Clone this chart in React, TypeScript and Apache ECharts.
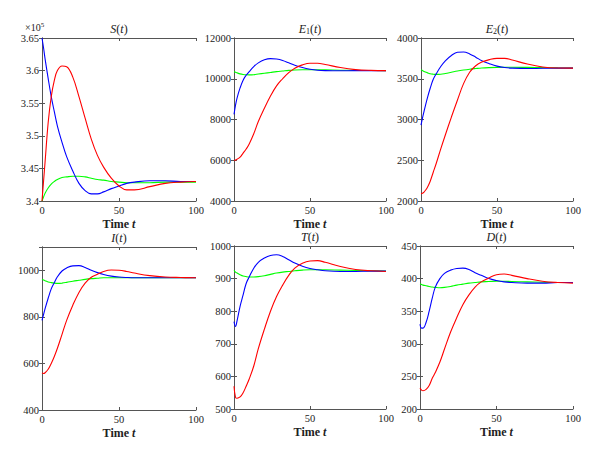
import React, { useEffect, useRef } from "react";
import * as echarts from "echarts";

// Time samples shared by all curves
const T = [0, 1, 2, 4, 6, 8, 10, 13, 16, 20, 24, 28, 32, 36, 40, 45, 50, 55, 60, 70, 80, 90, 100];

// S(t) (×10^5)
const S_blue = [3.65, 3.635, 3.618, 3.588, 3.56, 3.537, 3.515, 3.49, 3.468, 3.446, 3.427, 3.416, 3.411, 3.411, 3.414, 3.419, 3.423, 3.427, 3.429, 3.431, 3.431, 3.43, 3.43];
const S_red = [3.4, 3.43, 3.46, 3.52, 3.56, 3.585, 3.6, 3.607, 3.606, 3.59, 3.56, 3.527, 3.495, 3.47, 3.452, 3.435, 3.423, 3.417, 3.417, 3.422, 3.427, 3.429, 3.43];
const S_green = [3.4, 3.406, 3.412, 3.42, 3.426, 3.43, 3.433, 3.436, 3.437, 3.438, 3.438, 3.437, 3.435, 3.433, 3.432, 3.43, 3.429, 3.428, 3.428, 3.428, 3.429, 3.429, 3.429];

// E1(t)
const E1_blue = [8250, 8700, 9050, 9550, 9930, 10170, 10350, 10600, 10780, 10930, 10990, 10970, 10900, 10780, 10660, 10550, 10470, 10420, 10400, 10390, 10400, 10400, 10400];
const E1_red = [6000, 6010, 6050, 6150, 6350, 6550, 6800, 7300, 7900, 8550, 9150, 9650, 10000, 10300, 10520, 10680, 10760, 10760, 10700, 10550, 10450, 10410, 10400];
const E1_green = [10350, 10320, 10290, 10240, 10210, 10195, 10190, 10200, 10230, 10270, 10310, 10350, 10380, 10410, 10430, 10440, 10440, 10440, 10435, 10420, 10410, 10405, 10400];

// E2(t)
const E2_blue = [2930, 3020, 3100, 3250, 3380, 3490, 3560, 3650, 3720, 3785, 3825, 3828, 3805, 3765, 3722, 3685, 3655, 3638, 3630, 3625, 3628, 3630, 3630];
const E2_red = [2090, 2095, 2110, 2160, 2240, 2350, 2460, 2640, 2810, 3030, 3240, 3440, 3580, 3660, 3705, 3735, 3750, 3750, 3730, 3680, 3645, 3632, 3630];
const E2_green = [3610, 3600, 3590, 3575, 3562, 3556, 3554, 3556, 3565, 3580, 3595, 3607, 3617, 3625, 3632, 3637, 3640, 3641, 3641, 3639, 3636, 3633, 3632];

// I(t)
const I_blue = [785, 810, 835, 880, 920, 947, 972, 997, 1010, 1019, 1020, 1012, 1000, 990, 982, 975, 971, 969, 968, 968, 968, 968, 968];
const I_red = [560, 557, 560, 575, 600, 630, 665, 725, 785, 850, 905, 945, 970, 983, 995, 1001, 1000, 995, 988, 977, 971, 969, 968];
const I_green = [962, 958, 955, 950, 947, 945, 944, 945, 948, 953, 957, 961, 964, 966, 968, 968, 968, 968, 968, 968, 968, 968, 968];

// T(t)
const T_blue = [768, 753, 770, 815, 850, 885, 905, 932, 950, 963, 971, 973, 968, 958, 948, 938, 931, 927, 924, 922, 922, 923, 923];
const T_red = [570, 536, 533, 537, 550, 570, 592, 632, 685, 745, 800, 845, 880, 910, 932, 947, 954, 955, 950, 937, 928, 924, 922];
const T_green = [925, 920, 917, 912, 908, 906, 905, 905, 906, 909, 913, 917, 920, 922, 924, 926, 927, 927, 927, 926, 925, 924, 923];

// D(t)
const D_blue = [330, 324, 324, 333, 350, 370, 387, 400, 408, 413, 415.5, 416, 414, 409, 405, 400, 397, 395, 394, 393, 393, 394, 394];
const D_red = [232, 229, 228, 230, 236, 247, 256, 272, 292, 318, 340, 360, 375, 387, 395, 401, 406, 407, 405, 400, 396, 394, 393];
const D_green = [392, 391, 390, 389, 388, 387, 386.5, 386, 386.5, 388, 390, 391.5, 393, 394, 395, 395.5, 396, 396, 395.5, 395, 394.5, 394, 394];

// Y axis ranges
const Y_MIN = [3.4, 4000, 2000, 400, 500, 200];
const Y_MAX = [3.65, 12000, 4000, 1100, 1000, 450];
const Y_STEP = [0.05, 2000, 500, 200, 100, 50];
const X_TICKS = [0, 50, 100];

const TITLES = [
  "{it|S}({it|t})",
  "{it|E}{sub|1}({it|t})",
  "{it|E}{sub|2}({it|t})",
  "{it|I}({it|t})",
  "{it|T}({it|t})",
  "{it|D}({it|t})",
];

const BLUES = [S_blue, E1_blue, E2_blue, I_blue, T_blue, D_blue];
const REDS = [S_red, E1_red, E2_red, I_red, T_red, D_red];
const GREENS = [S_green, E1_green, E2_green, I_green, T_green, D_green];

const FONT = "'Liberation Serif', 'Times New Roman', 'DejaVu Serif', serif";

const GRIDS = [
  { left: 42, top: 38, width: 154, height: 163 },
  { left: 234, top: 38, width: 152, height: 163 },
  { left: 421, top: 38, width: 152, height: 163 },
  { left: 42, top: 247, width: 154, height: 163 },
  { left: 234, top: 246, width: 152, height: 163 },
  { left: 420, top: 246, width: 153, height: 163 },
];

export default function App() {
  const ref = useRef<HTMLDivElement>(null);
  useEffect(() => {
    if (!ref.current) return;
    const chart = echarts.init(ref.current, null, { renderer: "svg" });
    const axisLine = { show: true, lineStyle: { color: "#555", width: 1 } };
    const tick = { show: true, inside: true, length: 3, lineStyle: { color: "#555" } };
    const label = { color: "#222", fontFamily: FONT, fontSize: 10.5 };
    const fmt = (v: number) => String(Math.round(v * 1000) / 1000);
    const xAxes: any[] = [];
    const yAxes: any[] = [];
    const series: any[] = [];
    const graphics: any[] = [];
    GRIDS.forEach((g, i) => {
      xAxes.push({
        type: "value", gridIndex: i, min: X_TICKS[0], max: X_TICKS[2], interval: 50,
        position: "bottom", axisLine, axisTick: tick, splitLine: { show: false },
        axisLabel: { ...label, margin: 4, formatter: fmt },
        name: "{b|Time} {bi|t}", nameLocation: "middle", nameGap: 17,
        nameTextStyle: {
          fontFamily: FONT, fontSize: 12, color: "#222",
          rich: {
            b: { fontFamily: FONT, fontSize: 12, fontWeight: "bold", color: "#222" },
            bi: { fontFamily: FONT, fontSize: 12, fontWeight: "bold", fontStyle: "italic", color: "#222" },
          },
        },
      });
      yAxes.push({
        type: "value", gridIndex: i, min: Y_MIN[i], max: Y_MAX[i], interval: Y_STEP[i],
        position: "left", axisLine, axisTick: tick, splitLine: { show: false },
        axisLabel: { ...label, margin: 3, formatter: fmt, showMaxLabel: i === 3 ? false : true },
      });
    });
    GRIDS.forEach((g, i) => {
      xAxes.push({
        type: "value", gridIndex: i, min: X_TICKS[0], max: X_TICKS[2], interval: 50,
        position: "top", axisLine, axisTick: tick, axisLabel: { show: false }, splitLine: { show: false },
      });
      yAxes.push({
        type: "value", gridIndex: i, min: Y_MIN[i], max: Y_MAX[i], interval: Y_STEP[i],
        position: "right", axisLine, axisTick: tick, axisLabel: { show: false }, splitLine: { show: false },
      });
    });
    GRIDS.forEach((g, i) => {
      const mk = (arr: number[], color: string, name: string) => ({
        type: "line", name, xAxisIndex: i, yAxisIndex: i,
        data: T.map((t, k) => [t, arr[k]]),
        showSymbol: false, smooth: 0.4,
        lineStyle: { color, width: 1.1 }, itemStyle: { color },
      });
      series.push(mk(GREENS[i], "#00ff00", "g" + i));
      series.push(mk(BLUES[i], "#0000ff", "b" + i));
      series.push(mk(REDS[i], "#ff0000", "r" + i));
      graphics.push({
        type: "text",
        x: g.left + g.width / 2,
        y: g.top - 9,
        style: {
          text: TITLES[i],
          fontFamily: FONT, fontSize: 12, fill: "#222",
          align: "center", verticalAlign: "middle",
          rich: {
            it: { fontFamily: FONT, fontSize: 12, fontStyle: "italic", fill: "#222" },
            sub: { fontFamily: FONT, fontSize: 8, fill: "#222", verticalAlign: "bottom", padding: [5, 0, 0, 0] },
          },
        },
      });
    });
    graphics.push({
      type: "text", x: 25, y: 27,
      style: {
        text: "×10{sup|5}",
        fontFamily: FONT, fontSize: 10, fill: "#222",
        verticalAlign: "middle",
        rich: { sup: { fontFamily: FONT, fontSize: 7, fill: "#222", verticalAlign: "top", padding: [0, 0, 5, 0] } },
      },
    });
    chart.setOption({
      animation: false,
      backgroundColor: "#ffffff",
      textStyle: { fontFamily: FONT },
      grid: GRIDS.map((g) => ({ ...g, containLabel: false })),
      xAxis: xAxes,
      yAxis: yAxes,
      series,
      graphic: graphics,
    });
    return () => chart.dispose();
  }, []);
  return (
    <div
      ref={ref}
      style={{ position: "absolute", left: 0, top: 0, width: 600, height: 460 }}
    />
  );
}
